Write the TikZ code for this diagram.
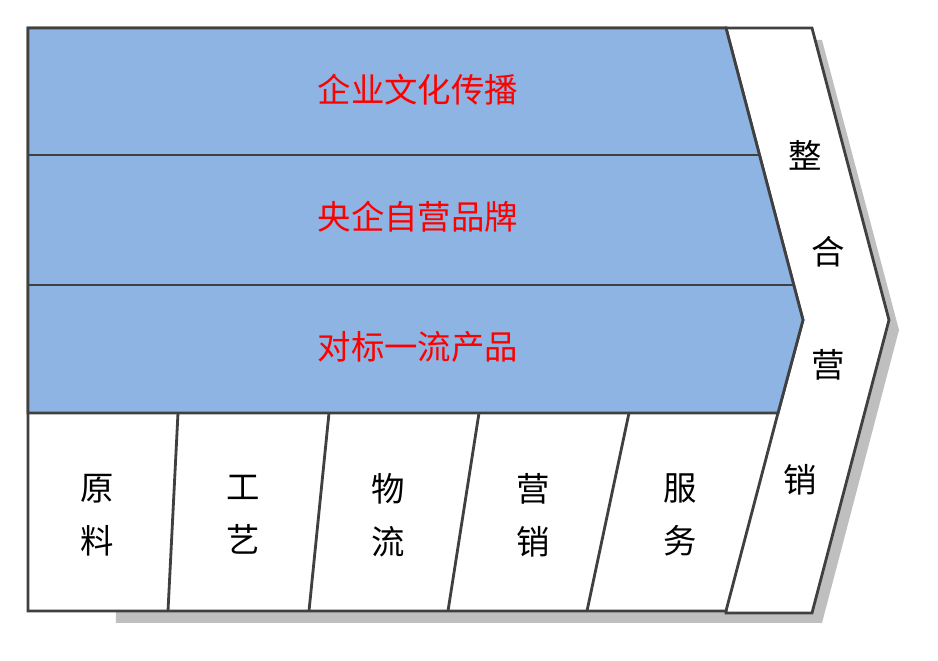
\documentclass[tikz,border=0pt]{standalone}
\usepackage{fontspec}
\newfontfamily\cjk{Noto Sans CJK SC}
\usetikzlibrary{positioning}
\definecolor{rowblue}{RGB}{141,180,226}
\definecolor{edgegray}{RGB}{64,64,64}
\begin{document}
\begin{tikzpicture}[x=0.01cm, y=-0.01cm, line width=0.8pt,
  rowtext/.style={text=red, font=\cjk\fontsize{9.5}{11}\selectfont},
  celltext/.style={font=\cjk\fontsize{9.5}{15}\selectfont, align=center},
  sidetext/.style={font=\cjk\fontsize{9.5}{11}\selectfont}]
\useasboundingbox (0,0) rectangle (938,661);

% shadow
\fill[black!25] (116,40) -- (822,40) -- (899,330) -- (822,623) -- (116,623) -- cycle;

% outer chevron
\draw[edgegray, fill=white] (726,28) -- (812,28) -- (889,320) -- (812,613) -- (726,613) -- cycle;

% main block
\draw[edgegray, fill=white] (28,28) -- (726,28) -- (803,320) -- (778,413) -- (726,611) -- (28,611) -- cycle;

% blue rows
\draw[edgegray, fill=rowblue] (28,28) -- (726,28) -- (803,320) -- (778,413) -- (28,413) -- cycle;
\draw[edgegray] (28,155) -- (758,155);
\draw[edgegray] (28,285) -- (794,285);

% bottom dividers
\draw[edgegray] (178,413) -- (168,611);
\draw[edgegray] (329,413) -- (309,611);
\draw[edgegray] (479,413) -- (448,611);
\draw[edgegray] (629,413) -- (587,611);

% row labels
\node[rowtext] (culture) at (418,90) {企业文化传播};
\node[rowtext] (brand) at (418,217) {央企自营品牌};
\node[rowtext] (product) at (418,347) {对标一流产品};

% cell labels
\node[celltext] (material) at (97,515) {原\\料};
\node[celltext] (craft) at (243,515) {工\\艺};
\node[celltext] (logistics) at (388,515) {物\\流};
\node[celltext] (sales) at (533,515) {营\\销};
\node[celltext] (service) at (680,515) {服\\务};

% side labels
\node[sidetext] (s1) at (805,155) {整};
\node[sidetext] (s2) at (828,252) {合};
\node[sidetext] (s3) at (828,365) {营};
\node[sidetext] (s4) at (800,480) {销};
\end{tikzpicture}
\end{document}
